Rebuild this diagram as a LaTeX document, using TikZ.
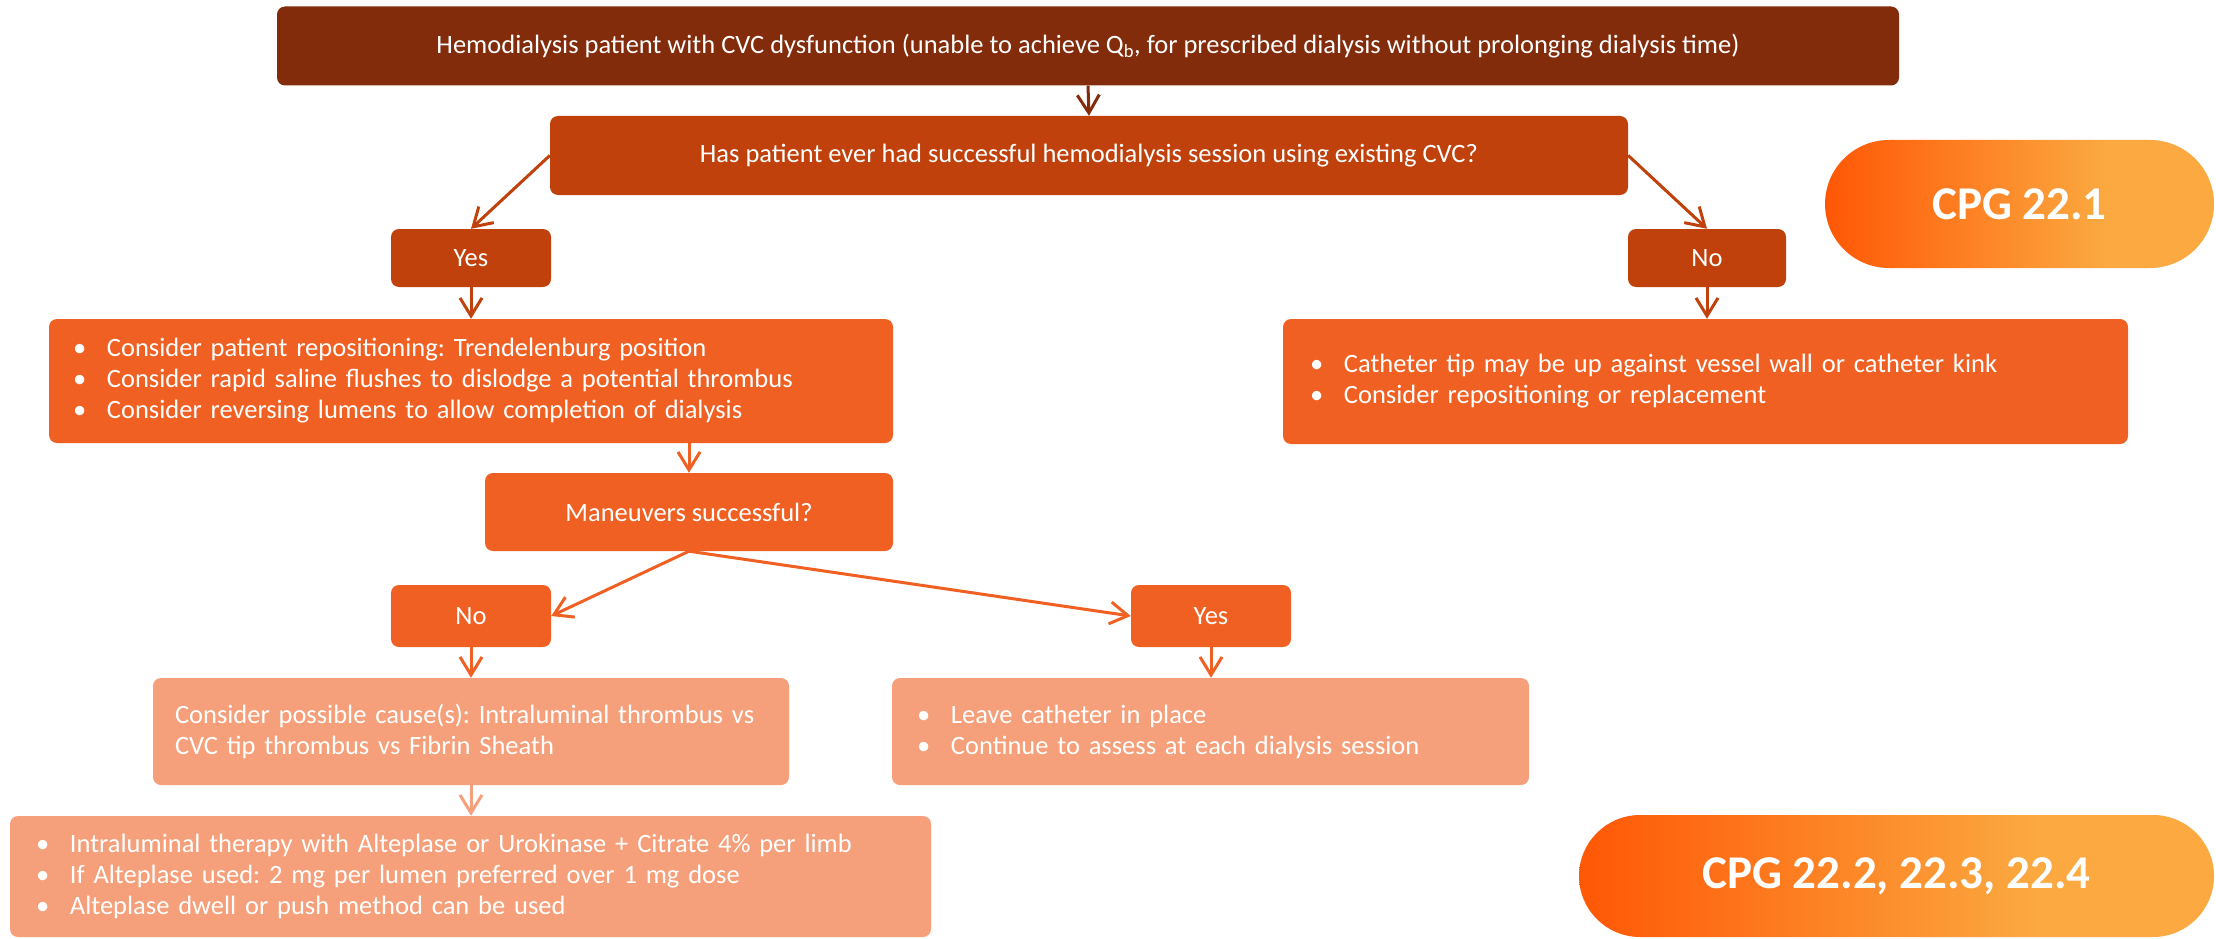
\documentclass[tikz,border=0pt]{standalone}
\usepackage{fontspec}
\setmainfont{Carlito}
\usetikzlibrary{arrows.meta}
\definecolor{cdark}{HTML}{832C0B}
\definecolor{cmid}{HTML}{C0410C}
\definecolor{corange}{HTML}{F06023}
\definecolor{clight}{HTML}{F5A07A}
\definecolor{gleft}{HTML}{FF5705}
\definecolor{gright}{HTML}{FBA940}
\pgfdeclarehorizontalshading{cpgshade}{100bp}{color(0bp)=(gleft); color(25bp)=(gleft); color(61bp)=(gright); color(100bp)=(gright)}
\tikzset{
  box/.style={draw=none, rounded corners=8pt, text=white, font=\fontsize{26.5}{31}\selectfont, inner sep=0pt, align=center},
  listbox/.style={box, align=left},
  pill/.style={draw=none, text=white, font=\fontsize{47}{50}\selectfont\bfseries, inner sep=0pt, shading=cpgshade, shading angle=0},
  conn/.style={line width=3pt, -{Straight Barb[length=18pt,width=22pt]}},
}
\newcommand\blt[1]{\makebox[34pt][l]{\textbullet}#1}
\frenchspacing
\begin{document}
\begin{tikzpicture}[x=1pt,y=-1pt]
\useasboundingbox (0,0) rectangle (2216,939);
% nodes
\node[box, fill=cdark, minimum width=1622pt, minimum height=79pt] (top) at (1088,46)
  {Hemodialysis patient with CVC dysfunction (unable to achieve Q\textsubscript{b}, for prescribed dialysis without prolonging dialysis time)};
\node[box, fill=cmid, minimum width=1078pt, minimum height=79pt] (q) at (1089,155.5)
  {Has patient ever had successful hemodialysis session using existing CVC?};
\node[box, fill=cmid, minimum width=160pt, minimum height=58pt] (yes1) at (471,258) {Yes};
\node[box, fill=cmid, minimum width=158pt, minimum height=58pt] (no1) at (1707,258) {No};
\node[listbox, fill=corange, text width=796pt, inner xsep=24pt, minimum height=124pt] (lb) at (471,381)
  {\blt{Consider patient repositioning: Trendelenburg position}\\
   \blt{Consider rapid saline flushes to dislodge a potential thrombus}\\
   \blt{Consider reversing lumens to allow completion of dialysis}};
\node[listbox, fill=corange, text width=791pt, inner xsep=27pt, minimum height=125pt] (rb) at (1705.5,381.5)
  {\blt{Catheter tip may be up against vessel wall or catheter kink}\\
   \blt{Consider repositioning or replacement}};
\node[box, fill=corange, minimum width=408pt, minimum height=78pt] (man) at (689,512) {Maneuvers successful?};
\node[box, fill=corange, minimum width=160pt, minimum height=62pt] (no2) at (471,616) {No};
\node[box, fill=corange, minimum width=160pt, minimum height=62pt] (yes2) at (1211,616) {Yes};
\node[listbox, fill=clight, text width=592pt, inner xsep=22pt, minimum height=107pt] (cause) at (471,731.5)
  {Consider possible cause(s): Intraluminal thrombus vs\\ CVC tip thrombus vs Fibrin Sheath};
\node[listbox, fill=clight, text width=587pt, inner xsep=25pt, minimum height=107pt] (leave) at (1210.5,731.5)
  {\blt{Leave catheter in place}\\
   \blt{Continue to assess at each dialysis session}};
\node[listbox, fill=clight, text width=869pt, inner xsep=26pt, minimum height=121pt] (intra) at (470.5,876.5)
  {\blt{Intraluminal therapy with Alteplase or Urokinase + Citrate 4\% per limb}\\
   \blt{If Alteplase used: 2 mg per lumen preferred over 1 mg dose}\\
   \blt{Alteplase dwell or push method can be used}};
\node[pill, rounded corners=64pt, minimum width=389pt, minimum height=128pt] (cpg1) at (2019.5,204) {CPG 22.1};
\node[pill, rounded corners=61pt, minimum width=635pt, minimum height=122pt] (cpg2) at (1896.5,876) {CPG 22.2, 22.3, 22.4};
% connectors
\draw[conn, cdark] (top.south) -- (q.north);
\draw[conn, cmid] (q.west) -- (yes1.north);
\draw[conn, cmid] (q.east) -- (no1.north);
\draw[conn, cmid] (yes1.south) -- (lb.north);
\draw[conn, cmid] (no1.south) -- (rb.north -| no1.south);
\draw[conn, corange] (lb.south -| man.north) -- (man.north);
\draw[conn, corange] (man.south) -- (no2.east);
\draw[conn, corange] (man.south) -- (yes2.west);
\draw[conn, corange] (no2.south) -- (cause.north);
\draw[conn, corange] (yes2.south) -- (leave.north -| yes2.south);
\draw[conn, clight] (cause.south) -- (intra.north -| cause.south);
\end{tikzpicture}
\end{document}
